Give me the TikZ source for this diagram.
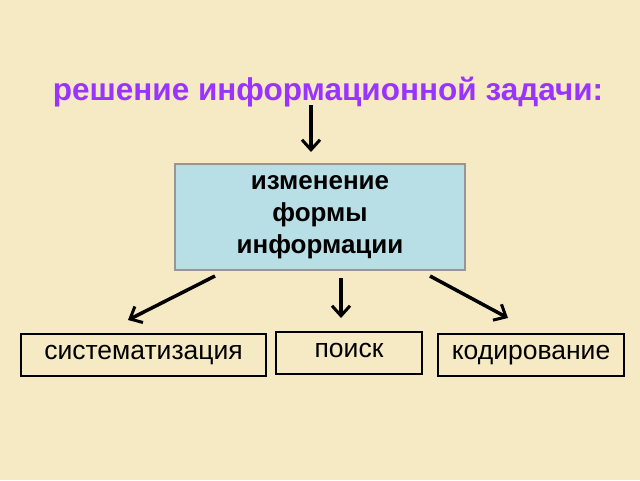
\documentclass[tikz,border=0pt]{standalone}
\usepackage{fontspec}
\setmainfont{Liberation Sans}
\usetikzlibrary{arrows.meta}
\begin{document}
\begin{tikzpicture}[x=1pt,y=-1pt,
  arr/.style={line width=3.5pt,-{Straight Barb[length=10pt,width=18pt,line width=3pt]}},
  lbox/.style={draw=black,line width=1.8pt,minimum height=42pt,inner sep=0pt,font=\fontsize{26.5}{28}\selectfont}]
\fill[fill={rgb,255:red,246;green,234;blue,196}] (0,0) rectangle (640,480);
\useasboundingbox (0,0) rectangle (640,480);
\node[font=\bfseries\fontsize{31.5}{34}\selectfont,text={rgb,255:red,153;green,51;blue,255}] (t) at (328,92) {решение информационной задачи:};
\node[draw={rgb,255:red,150;green,150;blue,150},line width=1.5pt,fill={rgb,255:red,185;green,223;blue,230},minimum width=290pt,minimum height=106pt,align=center,font=\bfseries\fontsize{26}{32}\selectfont] (b) at (320,217) {изменение\\формы\\информации};
\node[lbox,minimum width=245pt] (s) at (143.5,355) {систематизация};
\node[lbox,minimum width=146pt,anchor=north] (p) at (349,331) {\raisebox{6pt}{поиск}};
\node[lbox,minimum width=186pt] (k) at (531,355) {кодирование};
\coordinate (a0) at (311,105); \coordinate (a1) at (311,152);
\draw[arr] (a0) -- (a1);
\coordinate (l0) at (215,276); \coordinate (l1) at (128,320);
\draw[arr] (l0) -- (l1);
\coordinate (m0) at (341,278); \coordinate (m1) at (341,318);
\draw[arr] (m0) -- (m1);
\coordinate (r0) at (430,276); \coordinate (r1) at (508,318);
\draw[arr] (r0) -- (r1);
\end{tikzpicture}
\end{document}
